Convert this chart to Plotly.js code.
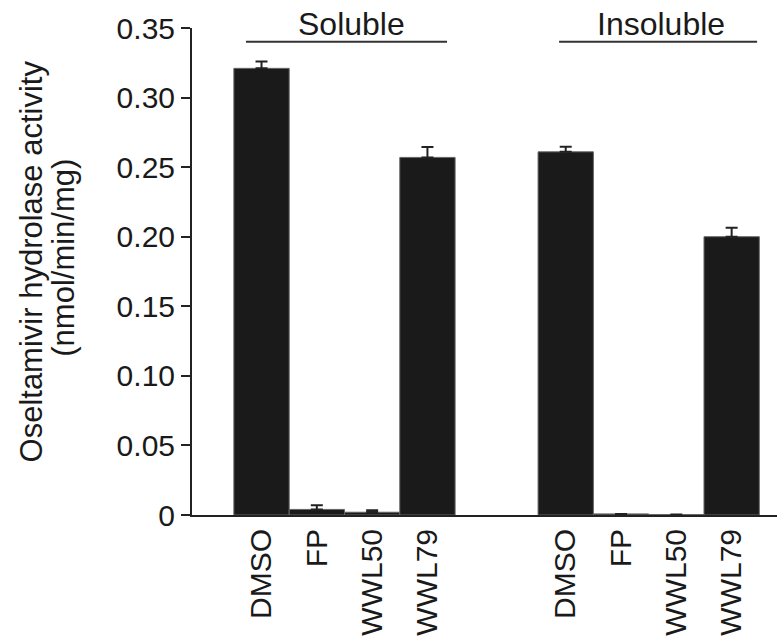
<!DOCTYPE html>
<html>
<head>
<meta charset="utf-8">
<script src="https://cdn.plot.ly/plotly-3.0.1.min.js"></script>
<style>
html,body{margin:0;padding:0;background:#fff;}
#chart{width:777px;height:643px;}
</style>
</head>
<body>
<div id="chart"></div>
<script>
// ---- data ----
const categories = ["DMSO", "FP", "WWL50", "WWL79"];
const groupLabels = ["Soluble", "Insoluble"];
const solubleValues = [0.321, 0.004, 0.002, 0.257];
const solubleErrors = [0.005, 0.003, 0.0015, 0.0075];
const insolubleValues = [0.261, 0.0008, 0.0003, 0.200];
const insolubleErrors = [0.0036, 0, 0, 0.0065];
const yTickValues = [0, 0.05, 0.10, 0.15, 0.20, 0.25, 0.30, 0.35];
const yTickLabels = ["0", "0.05", "0.10", "0.15", "0.20", "0.25", "0.30", "0.35"];
const yTitleLines = ["Oseltamivir hydrolase activity", "(nmol/min/mg)"];

// ---- layout helpers ----
const groupGap = 2.5;
const groupStart = [0, categories.length - 1 + groupGap];
const groups = [
  {vals: solubleValues, errs: solubleErrors},
  {vals: insolubleValues, errs: insolubleErrors}
];
const xs = [], ys = [], es = [], ticks = [];
groups.forEach((g, gi) => {
  categories.forEach((c, ci) => {
    xs.push(groupStart[gi] + ci);
    ys.push(g.vals[ci]);
    es.push(g.errs[ci]);
    ticks.push(c);
  });
});

const font = "Liberation Sans, Arial, sans-serif";
const ink = "#1a1a1a";

const trace = {
  type: "bar",
  x: xs,
  y: ys,
  width: 1,
  marker: {color: ink, line: {color: "#666", width: 1}},
  error_y: {
    type: "data", symmetric: false, array: es,
    arrayminus: es.map(() => 0),
    color: "#222", thickness: 2, width: 6
  },
  hoverinfo: "skip"
};

const layout = {
  width: 777, height: 643,
  margin: {l: 192, r: 0, t: 28, b: 128},
  paper_bgcolor: "#fff", plot_bgcolor: "#fff",
  showlegend: false,
  font: {family: font, color: ink, size: 30},
  bargap: 0,
  xaxis: {
    range: [-1.257, 9.32],
    tickmode: "array", tickvals: xs, ticktext: ticks,
    tickangle: -90,
    ticks: "", showgrid: false, zeroline: false,
    showline: true, linecolor: "#222", linewidth: 2,
    tickfont: {family: font, size: 30, color: ink},
    automargin: false
  },
  yaxis: {
    range: [0, 0.35],
    tickmode: "array", tickvals: yTickValues, ticktext: yTickLabels,
    ticks: "outside", ticklen: 9, tickwidth: 2, tickcolor: "#222",
    showgrid: false, zeroline: false,
    showline: true, linecolor: "#222", linewidth: 2,
    tickfont: {family: font, size: 30, color: ink},
    automargin: false
  },
  shapes: [
    {type: "line", xref: "x", yref: "y", x0: -0.281, x1: 3.354, y0: 0.3402, y1: 0.3402,
     line: {color: "#333", width: 2}},
    {type: "line", xref: "x", yref: "y", x0: 5.380, x1: 8.96, y0: 0.3402, y1: 0.3402,
     line: {color: "#333", width: 2}}
  ],
  annotations: [
    {text: groupLabels[0], xref: "x", yref: "paper", x: 1.618, y: 1.008,
     xanchor: "center", yanchor: "middle", showarrow: false,
     font: {family: font, size: 32, color: ink}},
    {text: groupLabels[1], xref: "x", yref: "paper", x: 7.224, y: 1.008,
     xanchor: "center", yanchor: "middle", showarrow: false,
     font: {family: font, size: 32, color: ink}},
    {text: yTitleLines[0], xref: "paper", yref: "paper", x: -0.274, y: 0.52,
     xanchor: "center", yanchor: "middle", textangle: -90, showarrow: false,
     font: {family: font, size: 31, color: ink}},
    {text: yTitleLines[1], xref: "paper", yref: "paper", x: -0.219, y: 0.528,
     xanchor: "center", yanchor: "middle", textangle: -90, showarrow: false,
     font: {family: font, size: 31, color: ink}}
  ]
};

Plotly.newPlot("chart", [trace], layout, {displayModeBar: false, staticPlot: true});
</script>
</body>
</html>
